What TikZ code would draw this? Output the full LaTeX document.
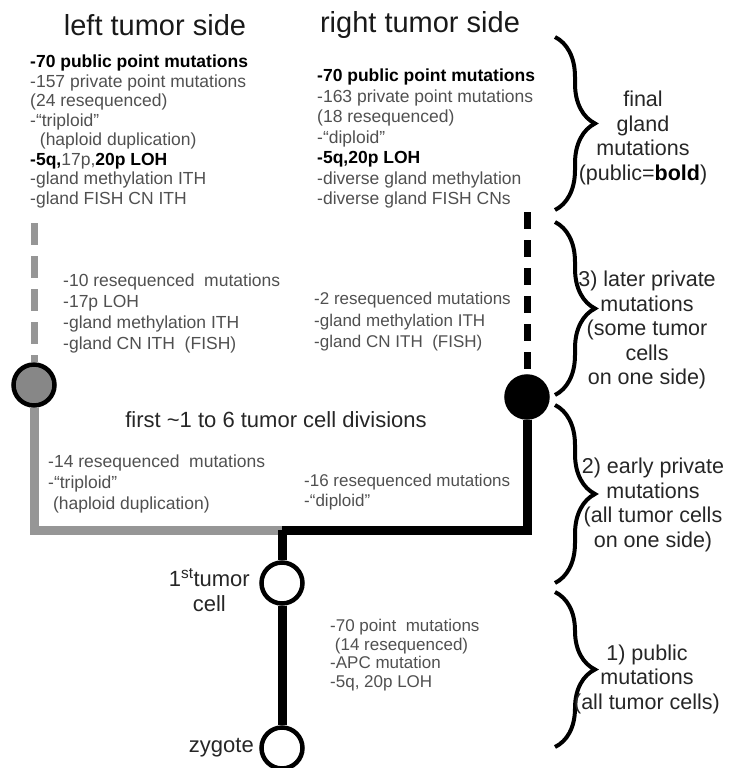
\documentclass[tikz,border=0pt]{standalone}
\usepackage{fontspec}
\setmainfont{Liberation Sans}
\usetikzlibrary{decorations.pathreplacing,backgrounds}
\definecolor{linegray}{RGB}{150,150,150}
\definecolor{cellgray}{RGB}{135,135,135}
\definecolor{txtgray}{RGB}{80,80,80}

\begin{document}
\begin{tikzpicture}[x=1pt,y=-1pt,
	mut/.style={font=\fontsize{17.5}{19.5}\selectfont,text=txtgray,align=left,anchor=north west,inner sep=0pt},
	side/.style={font=\fontsize{29}{34}\selectfont,text=black!90,inner sep=0pt},
	phase/.style={font=\fontsize{21.5}{24.5}\selectfont,text=black!85,align=center,inner sep=0pt},
	cellnode/.style={circle,draw=black,line width=4.5pt,minimum size=41pt,inner sep=0pt},
	bracket/.style={decorate,decoration={brace,amplitude=40pt},line width=4pt}]
	\useasboundingbox (0,0) rectangle (729,768);

	% the two sides
	\node[side] (lside) at (155,25) {left tumor side};
	\node[side] (rside) at (420,25) {right tumor side};

	\node[mut] (lfinal) at (30,55) {\textbf{\color{black}-70 public point mutations}\\
		-157 private point mutations\\ (24 resequenced)\\ -``triploid''\\ \ \ (haploid duplication)\\
		\textbf{\color{black}-5q,}17p,\textbf{\color{black}20p LOH}\\ -gland methylation ITH\\ -gland FISH CN ITH};
	\node[mut,font=\fontsize{17.5}{20.5}\selectfont] (rfinal) at (317,69) {\textbf{\color{black}-70 public point mutations}\\
		-163 private point mutations\\ (18 resequenced)\\ -``diploid''\\ \textbf{\color{black}-5q,20p LOH}\\
		-diverse gland methylation\\ -diverse gland FISH CNs};

	\node[mut,font=\fontsize{17.5}{21}\selectfont] (llate) at (63,274) {-10 resequenced\ \ mutations\\ -17p LOH\\
		-gland methylation ITH\\ -gland CN ITH\ \ (FISH)};
	\node[mut,font=\fontsize{17}{21.5}\selectfont] (rlate) at (314,292) {-2 resequenced mutations\\
		-gland methylation ITH\\ -gland CN ITH\ \ (FISH)};

	\node[font=\fontsize{22}{26}\selectfont,text=black!85,inner sep=0pt] (divs) at (276,420)
		{first \textasciitilde1 to 6 tumor cell divisions};

	\node[mut,font=\fontsize{17.5}{21}\selectfont] (learly) at (48,455) {-14 resequenced\ \ mutations\\
		-``triploid''\\ \ (haploid duplication)};
	\node[mut,font=\fontsize{17}{20}\selectfont] (rearly) at (304,474) {-16 resequenced mutations\\ -``diploid''};

	\node[mut,font=\fontsize{17}{18.7}\selectfont] (public) at (330,619) {-70 point\ \ mutations\\
		\ (14 resequenced)\\ -APC mutation\\ -5q, 20p LOH};

	% cells
	\node[cellnode,fill=cellgray] (lcell) at (34,385) {};
	\node[cellnode,fill=black] (rcell) at (527,397) {};
	\node[cellnode,fill=white] (tcell) at (282,583) {};
	\node[cellnode,fill=white] (zyg) at (282,748) {};
	\node[font=\fontsize{22}{25}\selectfont,text=black!85,align=center,anchor=east,inner sep=0pt]
		(tlabel) at (250,590) {1\textsuperscript{st}tumor\\cell};
	\node[font=\fontsize{22}{25}\selectfont,text=black!85,anchor=east,inner sep=0pt]
		(zlabel) at (254,748) {zygote};

	\coordinate (ltop) at (34,223);
	\coordinate (rtop) at (527,212);
	\coordinate (split) at (282,530);
	\begin{scope}[on background layer]
		\draw[linegray,line width=7pt,dash pattern=on 22pt off 11pt] (ltop) -- (lcell);
		\draw[line width=7pt,dash pattern=on 17pt off 11pt] (rtop) -- (rcell);
		\draw[linegray,line width=9pt] (lcell) |- (split);
		\draw[line width=9pt] (rcell) |- (split);
		\draw[line width=9pt] (split) -- (tcell) -- (zyg);
	\end{scope}

	% phases
	\coordinate (b1) at (555,37);   \coordinate (b2) at (555,210);
	\coordinate (b3) at (555,222);  \coordinate (b4) at (555,395);
	\coordinate (b5) at (555,405);  \coordinate (b6) at (555,583);
	\coordinate (b7) at (555,592);  \coordinate (b8) at (555,747);
	\draw[bracket] (b1) -- (b2);
	\draw[bracket] (b3) -- (b4);
	\draw[bracket] (b5) -- (b6);
	\draw[bracket] (b7) -- (b8);
	\node[phase] (pfinal) at (643,138) {final\\gland\\mutations\\(public=\textbf{\color{black}bold})};
	\node[phase] (plater) at (647,330) {3) later private\\mutations\\(some tumor\\cells\\on one side)};
	\node[phase] (pearly) at (653,505) {2) early private\\mutations\\(all tumor cells\\on one side)};
	\node[phase] (ppublic) at (647,679) {1) public\\mutations\\(all tumor cells)};
\end{tikzpicture}
\end{document}
